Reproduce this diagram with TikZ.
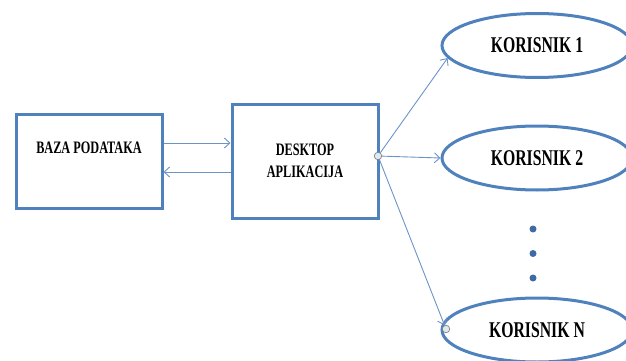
\documentclass[tikz,border=0pt]{standalone}
\usepackage{fontspec}
\setmainfont{Liberation Serif}
\newfontfamily\narrowfont[FakeStretch=0.7]{Liberation Serif}
\usetikzlibrary{shapes.geometric,arrows.meta}
\definecolor{boxblue}{HTML}{4F81BD}
\definecolor{lineblue}{HTML}{6C93C8}
\definecolor{dotblue}{HTML}{3E6AA5}
\definecolor{pinfill}{HTML}{DCEBF0}
\tikzset{
  box/.style={draw=boxblue, line width=3pt, inner sep=0pt, align=center, font=\narrowfont\bfseries\fontsize{17.5}{22}\selectfont},
  user/.style={ellipse, draw=boxblue, line width=3pt, inner sep=0pt, minimum width=190pt, minimum height=64pt, font=\narrowfont\bfseries\fontsize{22.5}{26}\selectfont},
  conn/.style={draw=lineblue, line width=0.9pt, -{Straight Barb[length=5.5pt,width=10pt]}},
  pin/.style={circle, draw=gray, fill=pinfill, line width=0.7pt, minimum size=7.5pt, inner sep=0pt},
  dotm/.style={circle, fill=dotblue, minimum size=7pt, inner sep=0pt}
}
\begin{document}
\begin{tikzpicture}[x=1pt,y=-1pt]
\useasboundingbox (0,0) rectangle (626,361);
\clip (0,0) rectangle (626,361);
\node[box, minimum width=146pt, minimum height=94pt] (baza) at (89,161) {};
\node[font=\narrowfont\bfseries\fontsize{17.5}{22}\selectfont] (bazat) at (89,148) {BAZA PODATAKA};
\node[box, minimum width=146pt, minimum height=114pt] (desk) at (305,161) {DESKTOP\\APLIKACIJA};
\node[user] (k1) at (537,45.5) {KORISNIK 1};
\node[user] (k2) at (537,158) {KORISNIK 2};
\node[user] (kn) at (537,330) {KORISNIK N};
\node[dotm] (d1) at (533,229) {};
\node[dotm] (d2) at (533,253.5) {};
\node[dotm] (d3) at (533,278) {};
\coordinate (a1s) at (baza.east |- 0,143);
\coordinate (a1e) at (desk.west |- 0,143);
\coordinate (a2s) at (desk.west |- 0,172);
\coordinate (a2e) at (baza.east |- 0,172);
\draw[conn] (a1s) -- (a1e);
\draw[conn] (a2s) -- (a2e);
\node[pin] (src) at (378,156) {};
\node[pin] (dst) at (446,329) {};
\draw[conn] (src) -- (k1.188);
\draw[conn] (src) -- (k2.west);
\draw[conn] (src) -- (dst);
\end{tikzpicture}
\end{document}
